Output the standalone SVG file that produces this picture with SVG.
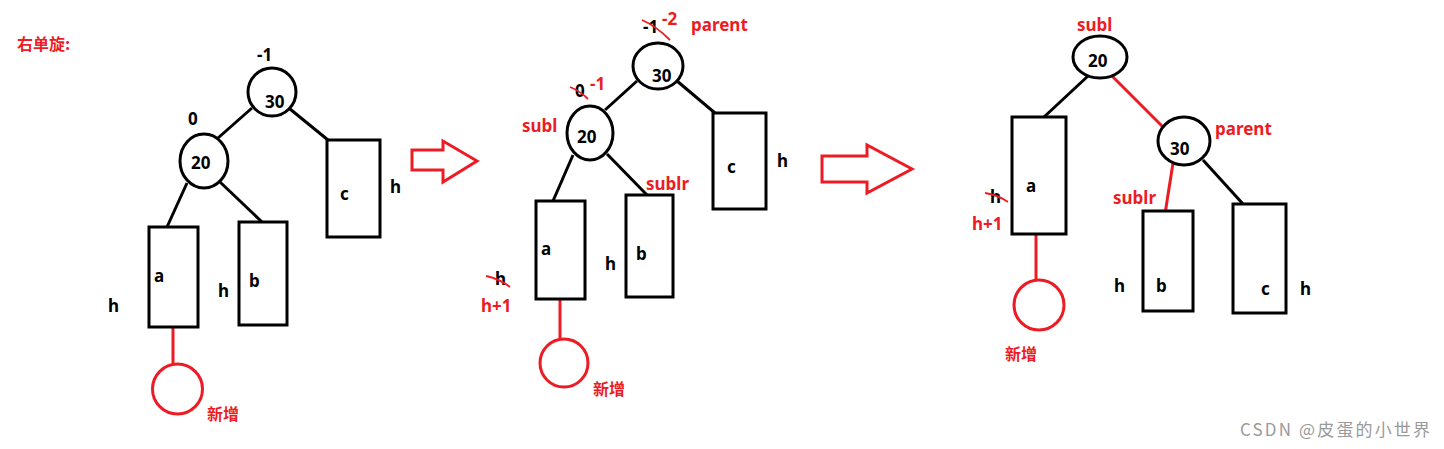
<svg xmlns="http://www.w3.org/2000/svg" width="1444" height="449" viewBox="0 0 1444 449">
<style>
.t{font-family:"Noto Sans","Noto Sans CJK SC",sans-serif;font-weight:bold;font-size:17px;fill:#000}
.r{fill:#ED1C24}
.cj{font-family:"Noto Sans CJK SC","Noto Sans",sans-serif;font-weight:bold;font-size:16px;fill:#ED1C24}
.n{fill:#fff;stroke:#000;stroke-width:3}
.nr{fill:none;stroke:#ED1C24;stroke-width:3}
.e{stroke:#000;stroke-width:3;fill:none}
.er{stroke:#ED1C24;stroke-width:3;fill:none}
.x{stroke:#ED1C24;stroke-width:1.8;fill:none}
.wm{font-family:"Noto Sans CJK SC","Noto Sans",sans-serif;font-size:17px;fill:#9a9a9a}
</style>
<rect width="1444" height="449" fill="#fff"/>
<text class="cj" x="17" y="50">右单旋:</text>

<g id="connectors">
  <line class="e" x1="252" y1="108" x2="218" y2="138"/>
  <line class="e" x1="290" y1="109" x2="328" y2="140"/>
  <line class="e" x1="187" y1="183" x2="167" y2="227"/>
  <line class="e" x1="220" y1="182" x2="262" y2="222"/>
  <line class="er" x1="173" y1="327" x2="173" y2="365"/>
  <line class="e" x1="637" y1="81" x2="605" y2="110"/>
  <line class="e" x1="677" y1="81" x2="715" y2="113"/>
  <line class="e" x1="573" y1="155" x2="553" y2="201"/>
  <line class="e" x1="607" y1="154" x2="647" y2="195"/>
  <line class="er" x1="560" y1="299" x2="560" y2="339"/>
  <line class="e" x1="1088" y1="76" x2="1044" y2="117"/>
  <line class="er" x1="1112" y1="76" x2="1163" y2="127"/>
  <line class="er" x1="1173" y1="163" x2="1165" y2="214"/>
  <line class="e" x1="1203" y1="160" x2="1243" y2="204"/>
  <line class="er" x1="1036" y1="234" x2="1036" y2="280"/>
</g>

<!-- Panel 1 -->
<g id="p1-n30">
  <ellipse class="n" cx="272" cy="92" rx="24" ry="24"/>
  <text class="t" x="265" y="108">30</text>
  <text class="t" x="257" y="61">-1</text>
</g>
<g id="p1-n20">
  <ellipse class="n" cx="204" cy="161" rx="24" ry="27"/>
  <text class="t" x="191" y="169">20</text>
  <text class="t" x="188" y="125">0</text>
</g>
<g id="p1-c">
  <rect class="n" x="327" y="140" width="53" height="97"/>
  <text class="t" x="340" y="200">c</text>
  <text class="t" x="390" y="193">h</text>
</g>
<g id="p1-a">
  <rect class="n" x="149" y="227" width="49" height="100"/>
  <text class="t" x="154" y="282">a</text>
  <text class="t" x="108" y="312">h</text>
</g>
<g id="p1-b">
  <rect class="n" x="239" y="222" width="48" height="103"/>
  <text class="t" x="249" y="287">b</text>
  <text class="t" x="218" y="297">h</text>
</g>
<g id="p1-new">
  <circle class="nr" cx="177.5" cy="389" r="25"/>
  <text class="cj" x="207" y="420">新增</text>
</g>

<g id="arrow1">
  <path class="er" d="M412,150 H443 V141 L477,161 L443,182 V170 H412 Z"/>
</g>

<!-- Panel 2 -->
<g id="p2-n30">
  <ellipse class="n" cx="658" cy="66" rx="25" ry="23"/>
  <text class="t" x="652" y="82">30</text>
  <text class="t" x="643" y="33">-1</text>
  <path class="x" d="M642,20 Q656,26 670,40"/>
  <text class="t r" x="662" y="25">-2</text>
  <text class="t r" x="691" y="31">parent</text>
</g>
<g id="p2-n20">
  <ellipse class="n" cx="590" cy="133" rx="23" ry="27"/>
  <text class="t" x="577" y="143">20</text>
  <text class="t" x="575" y="97">0</text>
  <path class="x" d="M570,87 Q580,91 588,99"/>
  <text class="t r" x="590" y="90">-1</text>
  <text class="t r" x="522" y="132">subl</text>
</g>
<g id="p2-c">
  <rect class="n" x="713" y="113" width="53" height="96"/>
  <text class="t" x="727" y="173">c</text>
  <text class="t" x="777" y="167">h</text>
</g>
<g id="p2-a">
  <rect class="n" x="536" y="201" width="49" height="98"/>
  <text class="t" x="541" y="255">a</text>
  <text class="t" x="495" y="285">h</text>
  <path class="x" d="M486,276 Q500,279 510,287"/>
  <text class="t r" x="481" y="312">h+1</text>
</g>
<g id="p2-b">
  <rect class="n" x="626" y="195" width="47" height="102"/>
  <text class="t" x="636" y="260">b</text>
  <text class="t" x="605" y="270">h</text>
  <text class="t r" x="646" y="190">sublr</text>
</g>
<g id="p2-new">
  <circle class="nr" cx="564" cy="363" r="24"/>
  <text class="cj" x="593" y="395">新增</text>
</g>

<g id="arrow2">
  <path class="er" d="M822,156 H867 V145 L912,169 L867,193 V182 H822 Z"/>
</g>

<!-- Panel 3 -->
<g id="p3-n20">
  <ellipse class="n" cx="1100" cy="57" rx="27" ry="21"/>
  <text class="t" x="1088" y="67">20</text>
  <text class="t r" x="1077" y="31">subl</text>
</g>
<g id="p3-a">
  <rect class="n" x="1012" y="117" width="54" height="117"/>
  <text class="t" x="1026" y="192">a</text>
  <text class="t" x="990" y="203">h</text>
  <path class="x" d="M985,193 Q998,195 1008,202"/>
  <text class="t r" x="972" y="230">h+1</text>
</g>
<g id="p3-new">
  <circle class="nr" cx="1039" cy="305" r="25"/>
  <text class="cj" x="1005" y="360">新增</text>
</g>
<g id="p3-n30">
  <ellipse class="n" cx="1184" cy="141" rx="26" ry="24"/>
  <text class="t" x="1170" y="155">30</text>
  <text class="t r" x="1215" y="135">parent</text>
</g>
<g id="p3-b">
  <rect class="n" x="1143" y="211" width="50" height="100"/>
  <text class="t" x="1156" y="292">b</text>
  <text class="t" x="1114" y="292">h</text>
  <text class="t r" x="1113" y="204">sublr</text>
</g>
<g id="p3-c">
  <rect class="n" x="1233" y="204" width="53" height="109"/>
  <text class="t" x="1261" y="295">c</text>
  <text class="t" x="1300" y="295">h</text>
</g>

<text class="wm" x="1240" y="436" textLength="190" lengthAdjust="spacing">CSDN @皮蛋的小世界</text>
</svg>
